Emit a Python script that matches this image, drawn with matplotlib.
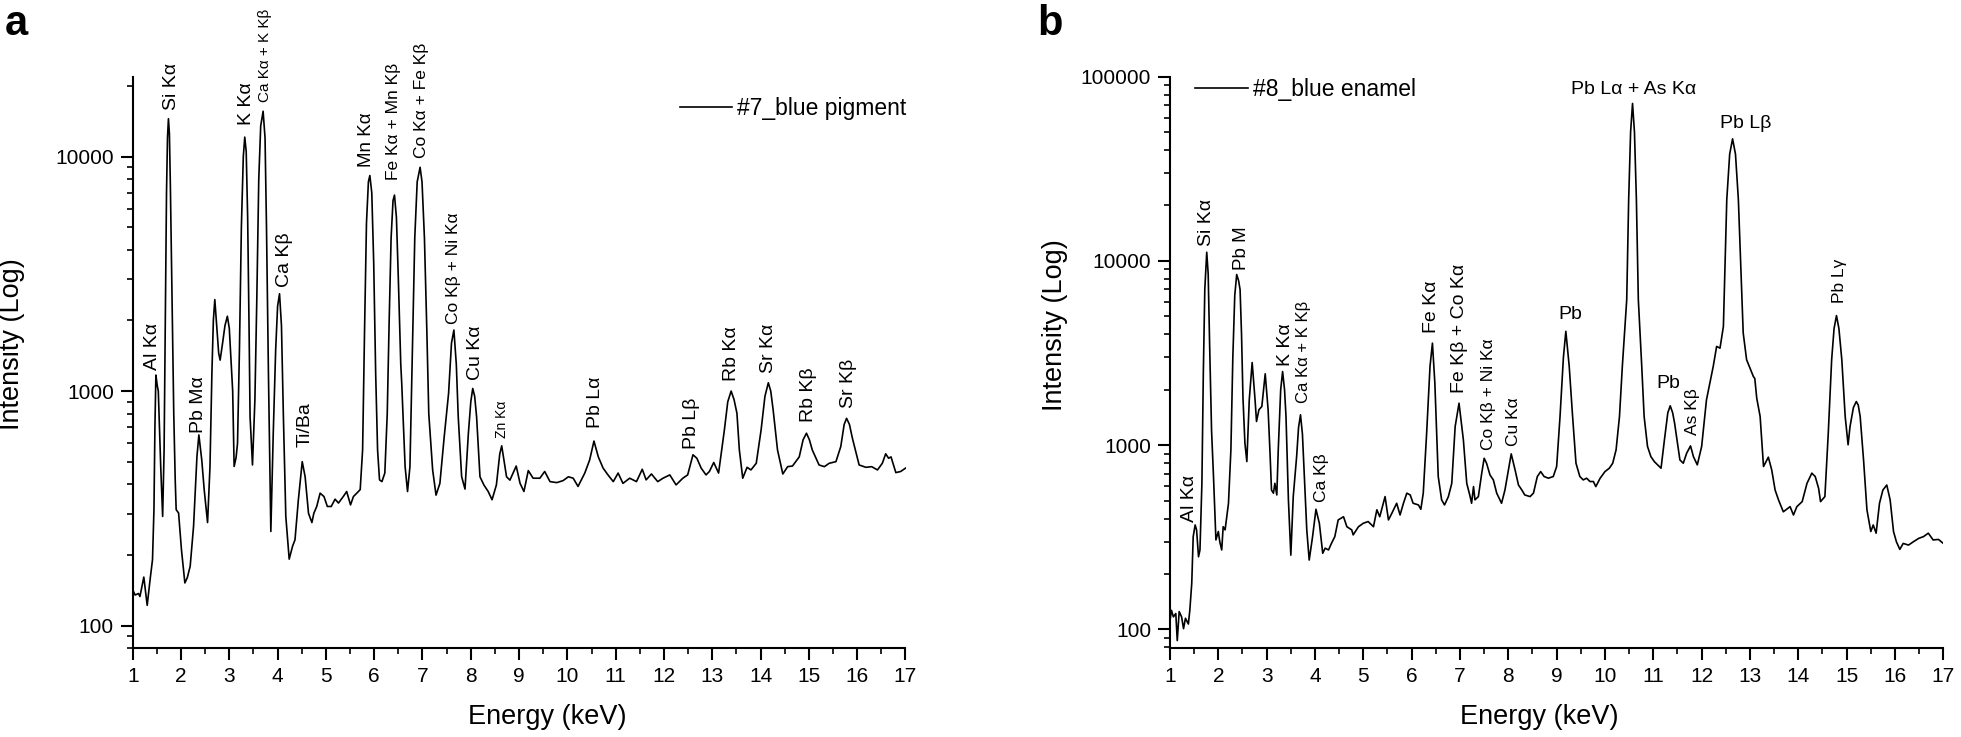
import numpy as np
import matplotlib
matplotlib.use('Agg')
import matplotlib.pyplot as plt
from matplotlib.ticker import LogLocator, FuncFormatter, NullFormatter, MultipleLocator

plt.rcParams['font.family'] = ['Liberation Sans', 'DejaVu Sans']

# ---- panel a: #7_blue pigment ----
energy_a = [1.00, 1.05, 1.12, 1.15, 1.23, 1.30, 1.36, 1.41, 1.44, 1.46, 1.48, 1.51, 1.53, 1.56, 1.58,
            1.62, 1.65, 1.68, 1.70, 1.72, 1.74, 1.76, 1.78, 1.81, 1.85, 1.88, 1.90, 1.95, 2.01, 2.08,
            2.13, 2.19, 2.26, 2.33, 2.37, 2.43, 2.48, 2.55, 2.60, 2.64, 2.67, 2.70, 2.74, 2.78, 2.81,
            2.86, 2.91, 2.96, 3.00, 3.04, 3.07, 3.10, 3.14, 3.17, 3.21, 3.25, 3.29, 3.32, 3.35, 3.38,
            3.41, 3.43, 3.48, 3.53, 3.57, 3.61, 3.65, 3.70, 3.74, 3.77, 3.81, 3.86, 3.91, 3.96, 4.00,
            4.04, 4.08, 4.12, 4.17, 4.24, 4.31, 4.36, 4.43, 4.51, 4.57, 4.64, 4.71, 4.75, 4.81, 4.88,
            4.96, 5.03, 5.11, 5.19, 5.26, 5.36, 5.43, 5.51, 5.57, 5.64, 5.71, 5.76, 5.80, 5.84, 5.88,
            5.91, 5.95, 5.99, 6.03, 6.07, 6.11, 6.16, 6.22, 6.27, 6.31, 6.35, 6.39, 6.42, 6.46, 6.50,
            6.55, 6.57, 6.64, 6.69, 6.74, 6.79, 6.84, 6.89, 6.95, 6.99, 7.04, 7.09, 7.13, 7.21, 7.28,
            7.36, 7.45, 7.54, 7.60, 7.65, 7.70, 7.74, 7.81, 7.88, 7.95, 8.00, 8.04, 8.08, 8.12, 8.19,
            8.27, 8.36, 8.44, 8.53, 8.60, 8.64, 8.69, 8.74, 8.81, 8.94, 9.02, 9.10, 9.19, 9.29, 9.43,
            9.53, 9.64, 9.78, 9.91, 10.02, 10.12, 10.22, 10.36, 10.46, 10.55, 10.64, 10.74, 10.84, 10.95, 11.05,
            11.15, 11.29, 11.43, 11.55, 11.63, 11.74, 11.87, 11.98, 12.12, 12.25, 12.39, 12.49, 12.60, 12.68, 12.77,
            12.87, 12.94, 13.03, 13.13, 13.25, 13.32, 13.39, 13.45, 13.51, 13.56, 13.63, 13.72, 13.80, 13.91, 14.01,
            14.09, 14.16, 14.21, 14.26, 14.35, 14.46, 14.56, 14.66, 14.80, 14.88, 14.95, 15.01, 15.07, 15.21, 15.32,
            15.42, 15.56, 15.66, 15.73, 15.78, 15.84, 15.90, 16.04, 16.18, 16.30, 16.42, 16.52, 16.59, 16.65, 16.70,
            16.73, 16.80, 16.90, 17.00]
counts_a = [142, 135, 137, 133, 161, 122, 157, 191, 312, 700, 1170, 1050, 1000, 650, 477,
            292, 560, 2500, 7000, 12000, 14500, 12500, 7500, 2800, 800, 420, 312, 302, 210, 152,
            160, 179, 265, 525, 650, 508, 380, 275, 476, 1200, 2000, 2455, 1900, 1450, 1355,
            1596, 1900, 2085, 1850, 1300, 1000, 477, 520, 598, 1500, 5000, 10000, 12100, 10500, 5500,
            1800, 777, 484, 916, 2500, 8000, 13500, 15600, 12000, 5000, 1200, 252, 661, 1500, 2300,
            2600, 1900, 777, 292, 192, 218, 232, 344, 500, 431, 301, 275, 301, 322, 367,
            355, 322, 322, 346, 333, 355, 373, 327, 355, 367, 380, 561, 1800, 5200, 7800,
            8300, 7000, 3500, 1200, 560, 418, 411, 447, 800, 2000, 4500, 6500, 6850, 5500, 3000,
            1300, 1078, 476, 373, 476, 1500, 4500, 7800, 9000, 7800, 4500, 1800, 800, 461, 360,
            404, 640, 978, 1600, 1820, 1300, 777, 432, 382, 661, 900, 1026, 950, 777, 431,
            398, 373, 344, 398, 540, 584, 500, 431, 417, 479, 404, 373, 458, 425, 425,
            454, 411, 407, 415, 431, 425, 392, 447, 508, 612, 524, 469, 439, 411, 447,
            404, 425, 411, 464, 418, 443, 411, 425, 439, 398, 425, 439, 535, 517, 469,
            439, 454, 496, 447, 682, 900, 1000, 920, 804, 561, 425, 473, 461, 492, 682,
            950, 1085, 1000, 830, 561, 443, 476, 479, 524, 620, 661, 620, 561, 484, 476,
            492, 500, 580, 720, 765, 720, 630, 484, 473, 476, 461, 492, 540, 517, 524,
            500, 449, 454, 469]

labels_a = ['Al Kα', 'Si Kα', 'Pb Mα', 'K Kα', 'Ca Kα + K Kβ', 'Ca Kβ', 'Ti/Ba', 'Mn Kα',
            'Fe Kα + Mn Kβ', 'Co Kα + Fe Kβ', 'Co Kβ + Ni Kα', 'Cu Kα', 'Zn Kα', 'Pb Lα',
            'Pb Lβ', 'Rb Kα', 'Sr Kα', 'Rb Kβ', 'Sr Kβ']
label_e_a = [1.40, 1.81, 2.36, 3.35, 3.74, 4.15, 4.57, 5.84, 6.40, 6.98, 7.64, 8.09, 8.64, 10.59,
             12.57, 13.40, 14.16, 14.99, 15.82]
label_i_a = [1228, 15800, 660, 13650, 17140, 2780, 580, 9060, 7960, 9840, 1941, 1113, 630, 693,
             565, 1106, 1189, 739, 844]
label_fs_a = [14, 14, 14, 14, 11, 14, 14, 13.5, 12.5, 12.5, 12.5, 14, 10, 14,
              14, 14, 14, 14, 14]

# ---- panel b: #8_blue enamel ----
energy_b = [1.00, 1.03, 1.07, 1.12, 1.15, 1.19, 1.24, 1.28, 1.32, 1.38, 1.41, 1.45, 1.48, 1.52, 1.55,
            1.59, 1.62, 1.66, 1.69, 1.72, 1.76, 1.79, 1.82, 1.86, 1.90, 1.95, 2.00, 2.03, 2.07, 2.10,
            2.14, 2.21, 2.26, 2.30, 2.34, 2.38, 2.42, 2.45, 2.48, 2.51, 2.55, 2.59, 2.64, 2.70, 2.76,
            2.79, 2.84, 2.90, 2.97, 3.03, 3.07, 3.10, 3.14, 3.17, 3.21, 3.24, 3.29, 3.33, 3.37, 3.40,
            3.45, 3.50, 3.55, 3.62, 3.66, 3.70, 3.74, 3.77, 3.83, 3.88, 3.95, 4.02, 4.09, 4.16, 4.21,
            4.28, 4.34, 4.41, 4.48, 4.59, 4.66, 4.76, 4.79, 4.90, 5.00, 5.10, 5.21, 5.28, 5.34, 5.45,
            5.52, 5.59, 5.69, 5.76, 5.83, 5.90, 5.97, 6.03, 6.14, 6.19, 6.24, 6.31, 6.38, 6.43, 6.48,
            6.55, 6.62, 6.68, 6.76, 6.83, 6.90, 6.98, 7.07, 7.14, 7.21, 7.24, 7.28, 7.31, 7.38, 7.45,
            7.50, 7.55, 7.62, 7.69, 7.76, 7.86, 7.93, 8.06, 8.14, 8.21, 8.28, 8.34, 8.45, 8.52, 8.60,
            8.67, 8.74, 8.83, 8.93, 9.00, 9.07, 9.14, 9.19, 9.26, 9.33, 9.40, 9.48, 9.55, 9.62, 9.69,
            9.76, 9.81, 9.90, 10.00, 10.09, 10.16, 10.23, 10.30, 10.36, 10.45, 10.49, 10.53, 10.57, 10.61, 10.65,
            10.69, 10.76, 10.81, 10.88, 10.95, 11.02, 11.09, 11.16, 11.23, 11.30, 11.35, 11.40, 11.44, 11.55, 11.62,
            11.69, 11.77, 11.83, 11.91, 12.00, 12.10, 12.21, 12.24, 12.31, 12.38, 12.45, 12.52, 12.58, 12.64, 12.70,
            12.76, 12.86, 12.93, 13.00, 13.07, 13.10, 13.14, 13.21, 13.28, 13.38, 13.45, 13.52, 13.59, 13.69, 13.76,
            13.83, 13.90, 13.97, 14.08, 14.18, 14.28, 14.35, 14.42, 14.46, 14.55, 14.62, 14.69, 14.74, 14.79, 14.84,
            14.90, 14.97, 15.03, 15.07, 15.14, 15.20, 15.24, 15.28, 15.35, 15.42, 15.50, 15.55, 15.61, 15.68, 15.75,
            15.83, 15.90, 15.97, 16.03, 16.10, 16.17, 16.28, 16.38, 16.49, 16.59, 16.69, 16.79, 16.90, 17.00]
counts_b = [112, 127, 117, 122, 87, 125, 117, 101, 115, 107, 127, 178, 319, 369, 347,
            248, 270, 621, 2500, 7000, 11150, 8500, 3500, 1200, 676, 306, 340, 299, 270, 361,
            347, 484, 944, 3000, 6500, 8440, 7800, 6990, 4000, 1800, 1025, 815, 1763, 2810, 1763,
            1345, 1557, 1622, 2441, 1557, 900, 571, 549, 621, 537, 944, 2000, 2510, 2000, 1432,
            505, 253, 526, 867, 1250, 1462, 1150, 766, 347, 238, 319, 449, 377, 259, 276,
            270, 293, 319, 393, 409, 361, 347, 326, 361, 377, 385, 361, 446, 409, 526,
            393, 427, 484, 418, 484, 549, 537, 484, 474, 449, 549, 1162, 2680, 3580, 2173,
            676, 505, 474, 526, 621, 1262, 1690, 1069, 621, 526, 484, 596, 505, 526, 705,
            849, 798, 690, 648, 549, 484, 571, 897, 734, 608, 571, 537, 526, 549, 676,
            719, 676, 662, 676, 766, 1432, 3000, 4150, 2680, 1432, 798, 676, 648, 662, 635,
            635, 596, 662, 719, 750, 798, 944, 1432, 2700, 6170, 21500, 50000, 71600, 50000, 21500,
            6170, 2700, 1432, 984, 867, 815, 782, 750, 1069, 1500, 1636, 1500, 1318, 832, 798,
            905, 991, 867, 782, 984, 1763, 2460, 2680, 3436, 3363, 4410, 21500, 38000, 46000, 38000,
            21500, 4065, 2911, 2620, 2360, 2300, 1800, 1432, 766, 861, 734, 571, 505, 435, 449,
            464, 418, 464, 494, 621, 705, 676, 583, 494, 526, 1162, 2911, 4300, 5050, 4300,
            2911, 1432, 1005, 1262, 1600, 1726, 1650, 1432, 832, 446, 340, 369, 333, 484, 571,
            608, 505, 340, 299, 272, 293, 287, 299, 312, 319, 333, 306, 308, 293]

labels_b = ['Al Kα', 'Si Kα', 'Pb M', 'K Kα', 'Ca Kα + K Kβ', 'Ca Kβ', 'Fe Kα',
            'Fe Kβ + Co Kα', 'Co Kβ + Ni Kα', 'Cu Kα', 'As Kβ', 'Pb Lγ']
label_e_b = [1.41, 1.76, 2.48, 3.38, 3.77, 4.14, 6.41, 7.00, 7.59, 8.10, 11.81, 14.86]
label_i_b = [385, 12000, 8970, 2680, 1690, 494, 4065, 1919, 944, 984, 1138, 5910]
label_fs_b = [14, 14, 13.5, 14, 12, 12.5, 14, 14, 12.5, 12.5, 12.5, 12.5]

flat_labels_b = ['Pb', 'Pb Lα + As Kα', 'Pb Lβ', 'Pb']
flat_e_b = [9.28, 10.59, 12.91, 11.31]
flat_i_b = [5100, 85300, 55700, 2170]


def tick_fmt(v, pos):
    return '%d' % round(v)


def style_axis(ax, ylo, yhi):
    ax.set_yscale('log')
    ax.set_xlim(1, 17)
    ax.set_ylim(ylo, yhi)
    for s in ['top', 'right']:
        ax.spines[s].set_visible(False)
    for s in ['left', 'bottom']:
        ax.spines[s].set_linewidth(1.5)
    ax.xaxis.set_major_locator(MultipleLocator(1))
    ax.xaxis.set_minor_locator(MultipleLocator(0.5))
    ax.yaxis.set_major_locator(LogLocator(base=10))
    ax.yaxis.set_minor_locator(LogLocator(base=10, subs=np.arange(2, 10)))
    ax.yaxis.set_major_formatter(FuncFormatter(tick_fmt))
    ax.yaxis.set_minor_formatter(NullFormatter())
    ax.tick_params(which='major', direction='out', length=8.5, width=1.5, labelsize=15, pad=5)
    ax.tick_params(which='minor', direction='out', length=4.5, width=1.2)
    ax.set_xlabel('Energy (keV)', fontsize=19.5)
    ax.set_ylabel('Intensity (Log)', fontsize=19.5)


fig = plt.figure(figsize=(19.61, 7.37), dpi=100)
ax_a = fig.add_axes([132.7 / 1961, 1 - 648.3 / 737, 772.8 / 1961, 571.6 / 737])
ax_b = fig.add_axes([1170 / 1961, 1 - 648.3 / 737, 773.3 / 1961, 571.6 / 737])

ax_a.plot(energy_a, counts_a, color='black', lw=1.2, label='#7_blue pigment')
style_axis(ax_a, 80, 21900)
ax_a.xaxis.set_label_coords(0.536, -0.097)
ax_a.yaxis.set_label_coords(-0.14, 0.533)
for s, e, i, fs in zip(labels_a, label_e_a, label_i_a, label_fs_a):
    ax_a.text(e, i, s, rotation=90, ha='center', va='bottom', fontsize=fs)
ax_a.legend(loc='center left', bbox_to_anchor=(0.708, 0.945), frameon=False, fontsize=16.5,
            borderpad=0, borderaxespad=0, handlelength=2.26, handletextpad=0.23)

ax_b.plot(energy_b, counts_b, color='black', lw=1.2, label='#8_blue enamel')
style_axis(ax_b, 79, 100000)
ax_b.xaxis.set_label_coords(0.477, -0.097)
ax_b.yaxis.set_label_coords(-0.132, 0.565)
for s, e, i, fs in zip(labels_b, label_e_b, label_i_b, label_fs_b):
    ax_b.text(e, i, s, rotation=90, ha='center', va='bottom', fontsize=fs)
for s, e, i in zip(flat_labels_b, flat_e_b, flat_i_b):
    ax_b.text(e, i, s, ha='center', va='center', fontsize=14)
ax_b.legend(loc='center left', bbox_to_anchor=(0.032, 0.977), frameon=False, fontsize=16.5,
            borderpad=0, borderaxespad=0, handlelength=2.31, handletextpad=0.23)

fig.text(5 / 1961, 1 - 35 / 737, 'a', fontsize=30, fontweight='bold', va='baseline')
fig.text(1037 / 1961, 1 - 35 / 737, 'b', fontsize=30, fontweight='bold', va='baseline')

fig.savefig('out.png', dpi=100)
